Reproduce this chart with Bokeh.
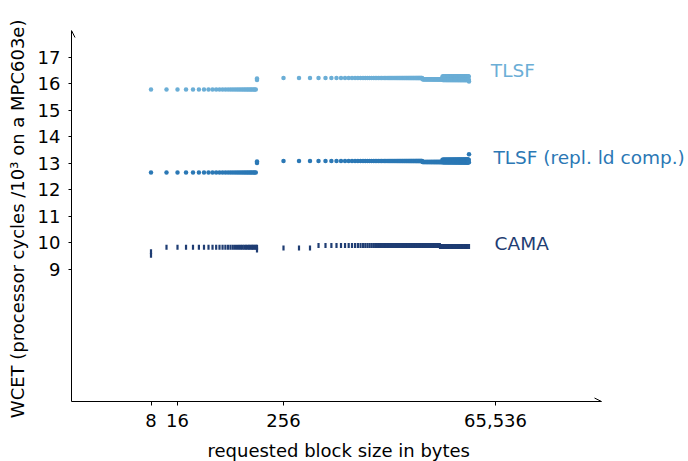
from bokeh.plotting import figure
from bokeh.models import Range1d, FixedTicker, NumeralTickFormatter, Arrow, OpenHead, Label, Title
from bokeh.embed import file_html
from bokeh.resources import INLINE

# ---- data (block sizes in bytes, WCET in 10^3 cycles) ----
sizes_fine = list(range(8, 128, 4))          # 8 ... 124
sizes_mid = list(range(256, 9728, 128))      # 256 ... 9600
sizes_late = list(range(9728, 16384, 128))   # 9728 ... 16256
sizes_band_a = list(range(16384, 32768, 256))
sizes_band_b = list(range(16512, 32768, 256))

# TLSF
tlsf_fine = 15.77
tlsf_128 = [16.13, 16.19]
tlsf_mid = 16.21
tlsf_late = 16.16
tlsf_band = [16.26, 16.13]
tlsf_last = 16.08

# TLSF (repl. ld comp.)
repl_fine = 12.64
repl_128 = [13.00, 13.06]
repl_mid = 13.08
repl_late = 13.04
repl_band = [13.12, 13.03]
repl_last = 13.33

# CAMA
cama_first = [9.52, 9.65]
cama_fine = 9.82
cama_128 = [9.72, 9.82]
cama_early_sizes = [256, 384, 512]
cama_early = 9.79
cama_mid_sizes = list(range(640, 15360, 128))
cama_mid = 9.89
cama_late_sizes = list(range(15360, 32768 + 1, 128))
cama_late = 9.85

series_names = ["TLSF", "TLSF (repl. ld comp.)", "CAMA"]
series_colors = ["#6baed6", "#2b78b5", "#1f3d73"]
label_x = [58000, 62000, 64000]
label_y = [16.49, 13.22, 9.98]

x_ticks = [8, 16, 256, 65536]
y_ticks = [9, 10, 11, 12, 13, 14, 15, 16, 17]
x_axis_end = 2 ** 20
y_axis_start, y_axis_end = 4, 18

x_title = "requested block size in bytes"
y_title = "WCET (processor cycles  /10³ on a MPC603e)"


def build(fine, v128, mid, late, band, last):
    xs, ys = [], []
    xs += sizes_fine; ys += [fine] * len(sizes_fine)
    xs += [128, 128]; ys += v128
    xs += sizes_mid; ys += [mid] * len(sizes_mid)
    xs += sizes_late; ys += [late] * len(sizes_late)
    xs += sizes_band_a; ys += [band[0]] * len(sizes_band_a)
    xs += sizes_band_b; ys += [band[1]] * len(sizes_band_b)
    xs += [32768]; ys += [last]
    return xs, ys


tx, ty = build(tlsf_fine, tlsf_128, tlsf_mid, tlsf_late, tlsf_band, tlsf_last)
rx, ry = build(repl_fine, repl_128, repl_mid, repl_late, repl_band, repl_last)

cx, cy = [], []
cx += [8, 8]; cy += cama_first
cx += sizes_fine[1:]; cy += [cama_fine] * (len(sizes_fine) - 1)
cx += [128, 128]; cy += cama_128
cx += cama_early_sizes; cy += [cama_early] * len(cama_early_sizes)
cx += cama_mid_sizes; cy += [cama_mid] * len(cama_mid_sizes)
cx += cama_late_sizes; cy += [cama_late] * len(cama_late_sizes)

FONT = "DejaVu Sans"

# layout: frame spans from left border to the right edge so labels are not clipped;
# the visible x axis runs from 1 to 2^20 over 530 px.
W, H = 688, 461
LEFT, TOP, BOTTOM = 71, 30, 60
axis_px = 530
frame_px = W - LEFT
x_range_end = 2 ** (20 * frame_px / axis_px)

p = figure(width=W, height=H, x_axis_type="log",
           x_range=Range1d(1, x_range_end), y_range=Range1d(y_axis_start, y_axis_end),
           output_backend="svg", toolbar_location=None,
           min_border_left=LEFT, min_border_right=0,
           min_border_top=TOP, min_border_bottom=BOTTOM)
p.outline_line_color = None
p.grid.visible = False
p.background_fill_color = "white"
p.border_fill_color = "white"

p.scatter(tx, ty, marker="circle", size=4.5, fill_color=series_colors[0], line_color=None)
p.scatter(rx, ry, marker="circle", size=4.5, fill_color=series_colors[1], line_color=None)
p.rect(cx, cy, width=2.2, height=5, width_units="screen", height_units="screen",
       fill_color=series_colors[2], line_color=None)

for name, col, lx, ly in zip(series_names, series_colors, label_x, label_y):
    p.add_layout(Label(x=lx, y=ly, text=name, text_color=col, text_font=FONT,
                       text_font_size="18.5px", text_baseline="middle", text_align="left"))

# axes
p.xaxis.ticker = FixedTicker(ticks=x_ticks)
p.xaxis.formatter = NumeralTickFormatter(format="0,0")
p.xaxis.bounds = (1, x_axis_end)
p.yaxis.ticker = FixedTicker(ticks=y_ticks)
for ax in (p.xaxis, p.yaxis):
    ax.axis_line_color = "black"
    ax.axis_line_width = 1
    ax.minor_tick_line_color = None
    ax.major_tick_in = 0
    ax.major_tick_line_color = "black"
    ax.major_label_text_font = FONT
    ax.major_label_text_font_size = "18px"
    ax.major_label_text_color = "black"
    ax.axis_label_text_font = FONT
    ax.axis_label_text_font_size = "18px"
    ax.axis_label_text_font_style = "normal"
    ax.axis_label_text_color = "black"
p.xaxis.major_tick_out = 4
p.yaxis.major_tick_out = 3
p.xaxis.major_label_standoff = 8
p.yaxis.major_label_standoff = 8
p.yaxis.axis_label_standoff = 7
p.yaxis.axis_label = y_title

# small spacer between the x axis and its title
p.add_layout(Title(text=" ", text_font_size="5px", text_line_height=1.0, standoff=0), "below")
# x axis title, placed under the visible part of the axis
p.add_layout(Title(text=x_title, align="left", offset=136, standoff=0,
                   text_font=FONT, text_font_size="18px", text_font_style="normal",
                   text_color="black"), "below")

# arrow heads at the axis ends
p.add_layout(Arrow(end=OpenHead(size=7, line_width=1, line_color="black"),
                   x_start=1, y_start=y_axis_end - 0.2, x_end=1, y_end=y_axis_end,
                   line_alpha=0))
p.add_layout(Arrow(end=OpenHead(size=7, line_width=1, line_color="black"),
                   x_start=x_axis_end / 1.2, y_start=y_axis_start, x_end=x_axis_end,
                   y_end=y_axis_start, line_alpha=0))

open("out.html", "w").write(file_html(p, INLINE))
